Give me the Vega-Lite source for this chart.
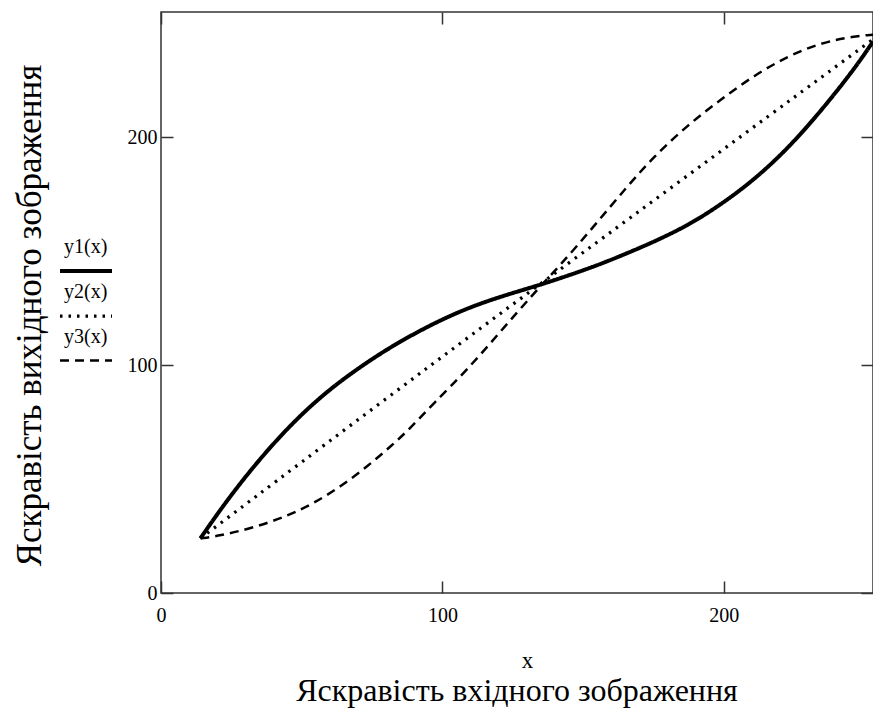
{
  "$schema": "https://vega.github.io/schema/vega-lite/v6.json",
  "width": 712,
  "height": 581,
  "autosize": {"type": "none"},
  "padding": {"left": 161, "top": 12, "right": 0, "bottom": 119},
  "background": "white",
  "title": {
    "text": "Яскравість вхідного зображення",
    "orient": "bottom",
    "anchor": "middle",
    "font": "Liberation Serif",
    "fontSize": 32,
    "fontWeight": "normal",
    "color": "black",
    "offset": 4
  },
  "data": {
    "values": [
      {"s": "y1(x)", "x": 14, "y": 24},
      {"s": "y1(x)", "x": 23.4, "y": 40.7},
      {"s": "y1(x)", "x": 35.2, "y": 59.1},
      {"s": "y1(x)", "x": 47.1, "y": 75.2},
      {"s": "y1(x)", "x": 59, "y": 88.6},
      {"s": "y1(x)", "x": 70.8, "y": 99.3},
      {"s": "y1(x)", "x": 82.7, "y": 108.9},
      {"s": "y1(x)", "x": 96.9, "y": 118.4},
      {"s": "y1(x)", "x": 108.8, "y": 125},
      {"s": "y1(x)", "x": 120.6, "y": 130.1},
      {"s": "y1(x)", "x": 134.9, "y": 135.3},
      {"s": "y1(x)", "x": 144.4, "y": 139.2},
      {"s": "y1(x)", "x": 156.2, "y": 144.3},
      {"s": "y1(x)", "x": 168.1, "y": 150.4},
      {"s": "y1(x)", "x": 175.2, "y": 154.2},
      {"s": "y1(x)", "x": 187.1, "y": 161.2},
      {"s": "y1(x)", "x": 198.9, "y": 170.4},
      {"s": "y1(x)", "x": 210.8, "y": 181.4},
      {"s": "y1(x)", "x": 222.7, "y": 195},
      {"s": "y1(x)", "x": 234.5, "y": 211.5},
      {"s": "y1(x)", "x": 246.4, "y": 230},
      {"s": "y1(x)", "x": 253, "y": 242},
      {"s": "y2(x)", "x": 14, "y": 24},
      {"s": "y2(x)", "x": 100, "y": 104},
      {"s": "y2(x)", "x": 163.3, "y": 161.6},
      {"s": "y2(x)", "x": 253, "y": 243},
      {"s": "y3(x)", "x": 14, "y": 24},
      {"s": "y3(x)", "x": 20.4, "y": 25},
      {"s": "y3(x)", "x": 32.8, "y": 28.6},
      {"s": "y3(x)", "x": 44.7, "y": 33.7},
      {"s": "y3(x)", "x": 54.2, "y": 39.3},
      {"s": "y3(x)", "x": 63.7, "y": 46.6},
      {"s": "y3(x)", "x": 73.2, "y": 55.4},
      {"s": "y3(x)", "x": 81.5, "y": 64.2},
      {"s": "y3(x)", "x": 88.6, "y": 72.3},
      {"s": "y3(x)", "x": 96.9, "y": 83.3},
      {"s": "y3(x)", "x": 108.8, "y": 97.9},
      {"s": "y3(x)", "x": 120.6, "y": 114.7},
      {"s": "y3(x)", "x": 132.5, "y": 131.6},
      {"s": "y3(x)", "x": 142, "y": 144},
      {"s": "y3(x)", "x": 153.8, "y": 160.9},
      {"s": "y3(x)", "x": 165.7, "y": 178.5},
      {"s": "y3(x)", "x": 175.2, "y": 191.6},
      {"s": "y3(x)", "x": 187.1, "y": 205.3},
      {"s": "y3(x)", "x": 198.9, "y": 216.6},
      {"s": "y3(x)", "x": 210.8, "y": 227.2},
      {"s": "y3(x)", "x": 222.7, "y": 235.6},
      {"s": "y3(x)", "x": 234.5, "y": 241.5},
      {"s": "y3(x)", "x": 246.4, "y": 244.4},
      {"s": "y3(x)", "x": 253, "y": 245}
    ]
  },
  "layer": [
    {
      "mark": {"type": "line", "color": "black", "interpolate": "basis", "clip": true},
      "encoding": {
        "x": {
          "field": "x",
          "type": "quantitative",
          "scale": {"domain": [0, 253], "nice": false, "zero": false},
          "axis": {
            "orient": "bottom",
            "values": [0, 100, 200],
            "title": "x",
            "titleFont": "Liberation Serif",
            "titleFontSize": 23,
            "titleFontWeight": "normal",
            "titleColor": "black",
            "titleX": 366,
            "titleY": 74,
            "titleBaseline": "alphabetic",
            "labelFont": "Liberation Serif",
            "labelFontSize": 20,
            "labelColor": "black",
            "labelFlush": false,
            "labelAngle": 0,
            "labelPadding": 24,
            "tickSize": -12,
            "tickColor": "#333",
            "tickWidth": 1.5,
            "domain": false,
            "grid": false
          }
        },
        "y": {
          "field": "y",
          "type": "quantitative",
          "scale": {"domain": [0, 255], "nice": false, "zero": false},
          "axis": {
            "orient": "left",
            "values": [0, 100, 200],
            "title": "Яскравість вихідного зображення",
            "titleFont": "Liberation Serif",
            "titleFontSize": 35,
            "titleFontWeight": "normal",
            "titleColor": "black",
            "titleAngle": 270,
            "titleX": -132,
            "titleY": 303,
            "titleBaseline": "middle",
            "titleAlign": "center",
            "labelFont": "Liberation Serif",
            "labelFontSize": 20,
            "labelColor": "black",
            "labelFlush": false,
            "labelPadding": 16,
            "tickSize": -12,
            "tickColor": "#333",
            "tickWidth": 1.5,
            "domain": false,
            "grid": false
          }
        },
        "strokeDash": {
          "field": "s",
          "type": "ordinal",
          "scale": {"domain": ["y1(x)", "y2(x)", "y3(x)"], "range": [[1, 0], [2.5, 6], [9, 6]]},
          "legend": {
            "orient": "none",
            "legendX": -103,
            "legendY": 231,
            "title": null,
            "symbolType": "stroke",
            "symbolSize": 2704,
            "symbolStrokeColor": "black",
            "labelFont": "Liberation Serif",
            "labelFontSize": 20,
            "labelColor": "black",
            "labelBaseline": "bottom",
            "labelOffset": -50,
            "labelLimit": 0,
            "rowPadding": 3,
            "encode": {"labels": {"update": {"dy": {"value": -14}}}}
          }
        },
        "strokeWidth": {
          "field": "s",
          "type": "ordinal",
          "scale": {"domain": ["y1(x)", "y2(x)", "y3(x)"], "range": [4, 2.5, 4.5]},
          "legend": {
            "orient": "none",
            "legendX": -103,
            "legendY": 231,
            "title": null,
            "symbolType": "stroke",
            "symbolSize": 2704,
            "symbolStrokeColor": "black",
            "labelFont": "Liberation Serif",
            "labelFontSize": 20,
            "labelColor": "black",
            "labelBaseline": "bottom",
            "labelOffset": -50,
            "labelLimit": 0,
            "rowPadding": 3,
            "encode": {"labels": {"update": {"dy": {"value": -14}}}}
          }
        }
      }
    },
    {
      "mark": {"type": "line", "opacity": 0},
      "encoding": {
        "x": {
          "field": "x",
          "type": "quantitative",
          "axis": {
            "orient": "top",
            "values": [0, 100, 200],
            "labels": false,
            "title": null,
            "tickSize": -12,
            "tickColor": "#333",
            "tickWidth": 1.5,
            "domain": false,
            "grid": false
          }
        },
        "y": {
          "field": "y",
          "type": "quantitative",
          "axis": {
            "orient": "right",
            "values": [0, 100, 200],
            "labels": false,
            "title": null,
            "tickSize": -12,
            "tickColor": "#333",
            "tickWidth": 1.5,
            "domain": false,
            "grid": false
          }
        },
        "detail": {"field": "s", "type": "nominal"}
      }
    }
  ],
  "resolve": {"axis": {"x": "independent", "y": "independent"}},
  "config": {
    "view": {"stroke": "#333", "strokeWidth": 1.5}
  }
}
